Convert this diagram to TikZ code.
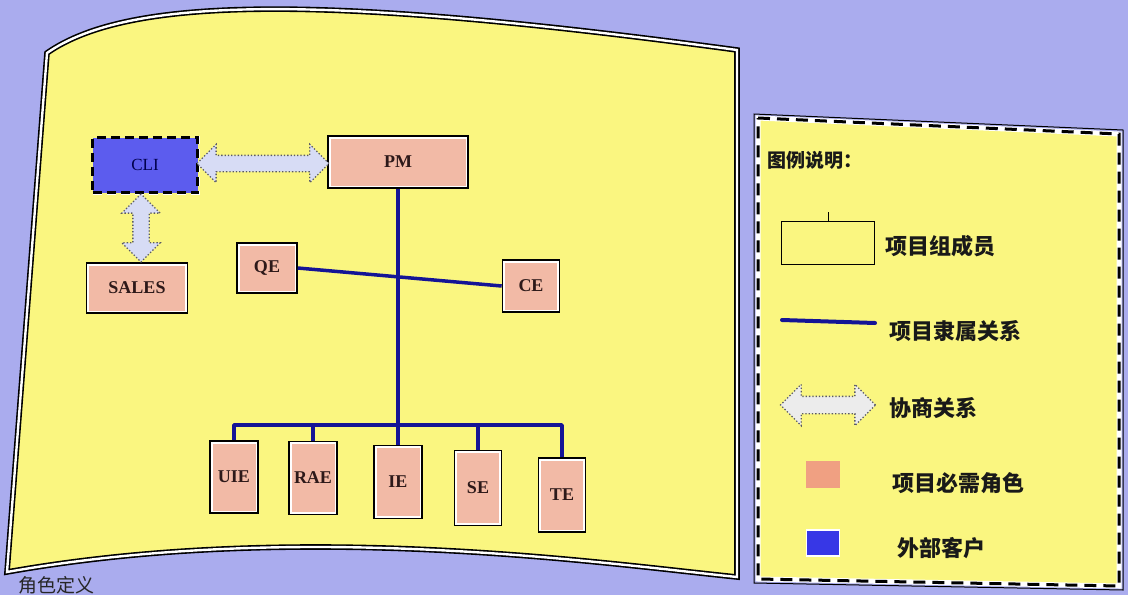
\documentclass[tikz,border=0pt]{standalone}
\usepackage{fontspec}
\setmainfont{Liberation Serif}
\newfontfamily\cjk{Noto Sans CJK SC}
\usetikzlibrary{shapes.arrows,calc}
\definecolor{bgc}{RGB}{170,172,238}
\definecolor{panelc}{RGB}{250,246,128}
\definecolor{salmonc}{RGB}{242,186,166}
\definecolor{legsalmon}{RGB}{240,160,130}
\definecolor{clic}{RGB}{92,92,238}
\definecolor{legblue}{RGB}{55,55,230}
\definecolor{navyc}{RGB}{20,20,150}
\definecolor{txtc}{RGB}{45,25,25}
\definecolor{negofill}{RGB}{215,220,245}
\definecolor{negoline}{RGB}{90,90,100}
\begin{document}
\begin{tikzpicture}[x=1pt,y=-1pt,
  role/.style={rectangle, fill=salmonc, draw=black, line width=1.6pt, inner sep=0pt,
    font=\bfseries\fontsize{18}{18}\selectfont, text=txtc,
    path picture={\draw[white, line width=5pt] (path picture bounding box.south west) rectangle (path picture bounding box.north east);}},
  rel/.style={draw=navyc, line width=3.5pt, line join=round},
  nego/.style={double arrow, draw=negoline, dotted, line width=1.3pt, fill=negofill,
    inner sep=7.5pt, double arrow head extend=11pt},
  legtext/.style={anchor=west, font=\cjk\bfseries\fontsize{22}{22}\selectfont, text=black!90, inner sep=0pt}
]
\useasboundingbox (0,0) rectangle (1128,595);
\fill[bgc] (0,0) rectangle (1128,595);

% main panel
\path[fill=panelc] (47,53) .. controls (130,-5) and (330,-5) .. (737,50) -- (737,577)
  .. controls (600,563) and (300,520) .. (7,572) -- cycle;
\draw[line width=1.6pt, double=white, double distance=2.4pt] (47,53) .. controls (130,-5) and (330,-5) .. (737,50) -- (737,577)
  .. controls (600,563) and (300,520) .. (7,572) -- cycle;

% legend panel
\path[fill=panelc] (757,117) -- (1120,133) -- (1120,587) -- (757,580) -- cycle;
\draw[line width=1pt] (754,114) -- (1123,130) -- (1123,590) -- (754,583) -- cycle;
\draw[line width=5pt, white] (758,118) -- (1119,134) -- (1119,586) -- (758,579) -- cycle;
\draw[line width=3pt, black, dash pattern=on 12pt off 7pt] (758,118) -- (1119,134) -- (1119,586) -- (758,579) -- cycle;

% nodes
\node[role, minimum width=140pt, minimum height=52pt] (pm) at (398,162) {PM};
\node[rectangle, fill=clic, draw=black, line width=2.5pt, dash pattern=on 9pt off 5pt,
  preaction={draw=white, line width=4pt}, minimum width=105pt, minimum height=55pt,
  font=\fontsize{17}{17}\selectfont, text=black!70!blue] (cli) at (145,165) {CLI};
\node[role, minimum width=101pt, minimum height=50pt] (sales) at (137,288) {SALES};
\node[role, minimum width=60pt, minimum height=50pt] (qe) at (267,268) {QE};
\node[role, minimum width=57pt, minimum height=52pt] (ce) at (531,286) {CE};
\node[role, minimum width=48pt, minimum height=72pt] (uie) at (234,477) {UIE};
\node[role, minimum width=48pt, minimum height=73pt] (rae) at (313,478) {RAE};
\node[role, minimum width=48pt, minimum height=73pt] (ie) at (398,482) {IE};
\node[role, minimum width=47pt, minimum height=75pt] (se) at (478,488) {SE};
\node[role, minimum width=47pt, minimum height=74pt] (te) at (562,495) {TE};

% reporting lines
\coordinate (bus) at (398,425);
\draw[rel] (pm.south) -- (ie.north);
\draw[rel] (qe.east) -- (ce.west);
\draw[rel] (uie.north) |- (bus) -| (te.north);
\draw[rel] (rae.north) -- (rae.north |- bus);
\draw[rel] (se.north) -- (se.north |- bus);

% negotiation arrows
\node[nego, minimum height=132pt] (a1) at ($(cli.east)!0.5!(pm.west)$) {};
\node[nego, minimum height=68pt, rotate=90] (a2) at ($(cli.south)!0.5!(sales.north)$) {};

% legend
\node[legtext, font=\cjk\bfseries\fontsize{19}{19}\selectfont] (lt) at (767,160) {图例说明：};
\node[draw=black, line width=1.8pt, minimum width=93pt, minimum height=43pt] (lr) at (828,243) {};
\coordinate (lrt) at (828,212);
\draw[line width=0.8pt] (lr.north) -- (lrt);
\node[legtext] (t1) at (885,246) {项目组成员};
\coordinate (ll1) at (782,320);
\coordinate (ll2) at (875,323);
\draw[rel, line width=4pt, line cap=round] (ll1) -- (ll2);
\node[legtext] (t2) at (889,331) {项目隶属关系};
\node[nego, minimum height=95pt, inner sep=8pt, double arrow head extend=12pt, fill=white!85!gray] (la) at (828,405) {};
\node[legtext] (t3) at (889,408) {协商关系};
\node[fill=legsalmon, minimum width=34pt, minimum height=27pt] (ls) at (823,474) {};
\node[legtext] (t4) at (892,483) {项目必需角色};
\node[fill=legblue, draw=white, line width=1.5pt, minimum width=33pt, minimum height=26pt] (lb) at (823,543) {};
\node[legtext] (t5) at (897,548) {外部客户};

% caption below the panel
\node[anchor=north west, font=\cjk\fontsize{19}{19}\selectfont, text=black!85, inner sep=0pt] (cap) at (18,576) {角色定义};
\end{tikzpicture}
\end{document}
